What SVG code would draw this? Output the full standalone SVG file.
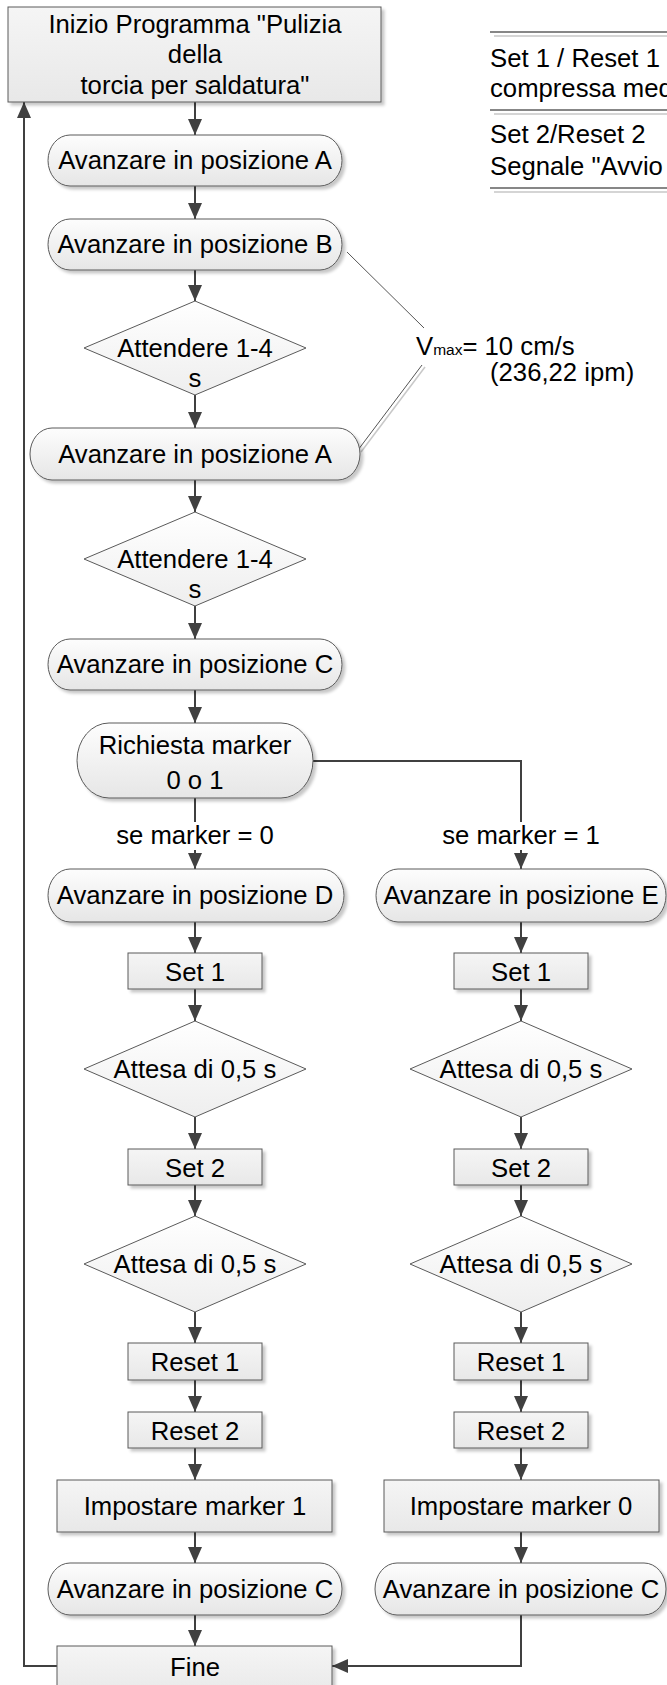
<svg xmlns="http://www.w3.org/2000/svg" width="667" height="1685" viewBox="0 0 667 1685">
<defs>
<linearGradient id="gp" x1="0" y1="0" x2="0" y2="1"><stop offset="0" stop-color="#fdfdfd"/><stop offset="1" stop-color="#e6e6e6"/></linearGradient>
<linearGradient id="gb" x1="0" y1="0" x2="0" y2="1"><stop offset="0" stop-color="#f5f5f5"/><stop offset="1" stop-color="#e8e8e8"/></linearGradient>
<linearGradient id="gd" x1="0" y1="0" x2="0" y2="1"><stop offset="0" stop-color="#ffffff"/><stop offset="1" stop-color="#eeeeee"/></linearGradient>
<filter id="sh" x="-10%" y="-10%" width="130%" height="140%"><feDropShadow dx="3" dy="3" stdDeviation="1.5" flood-color="#000" flood-opacity="0.22"/></filter>
<marker id="ah" viewBox="0 0 16 14" refX="16" refY="7" markerWidth="16" markerHeight="14" markerUnits="userSpaceOnUse" orient="auto"><path d="M0,0 L16,7 L0,14 z" fill="#404040"/></marker>
</defs>
<style>
.box{fill:url(#gb);stroke:#5a5a5a;stroke-width:1;filter:url(#sh)}
.pill{fill:url(#gp);stroke:#5a5a5a;stroke-width:1;filter:url(#sh)}
.dia{fill:url(#gd);stroke:#5a5a5a;stroke-width:1}
.t{font-family:"Liberation Sans",Arial,sans-serif;font-size:25.7px;fill:#000;text-anchor:middle}
.tl{font-family:"Liberation Sans",Arial,sans-serif;font-size:25.7px;fill:#000}
.c{fill:none;stroke:#404040;stroke-width:2}
.ca{fill:none;stroke:#404040;stroke-width:2;marker-end:url(#ah)}
.thin{fill:none;stroke:#555;stroke-width:1}
.shl{fill:none;stroke:#c8c8c8;stroke-width:1.5}
.dl{fill:none;stroke:#606060;stroke-width:1.5}
</style>

<g id="connectors">
<path class="ca" d="M195,102 V135"/>
<path class="ca" d="M195,186 V219"/>
<path class="ca" d="M195,270 V301"/>
<path class="ca" d="M195,395 V428"/>
<path class="ca" d="M195,480 V512"/>
<path class="ca" d="M195,606 V639"/>
<path class="ca" d="M195,690 V723"/>
<path class="ca" d="M195,798 V822 M195,850 V869"/>
<path class="ca" d="M313,761 H521 V822 M521,850 V869"/>
<path class="ca" d="M195,922 V953"/>
<path class="ca" d="M521,922 V953"/>
<path class="ca" d="M195,989 V1021"/>
<path class="ca" d="M521,989 V1021"/>
<path class="ca" d="M195,1117 V1149"/>
<path class="ca" d="M521,1117 V1149"/>
<path class="ca" d="M195,1185 V1216"/>
<path class="ca" d="M521,1185 V1216"/>
<path class="ca" d="M195,1312 V1343"/>
<path class="ca" d="M521,1312 V1343"/>
<path class="ca" d="M195,1380 V1412"/>
<path class="ca" d="M521,1380 V1412"/>
<path class="ca" d="M195,1448 V1480"/>
<path class="ca" d="M521,1448 V1480"/>
<path class="ca" d="M195,1532 V1563"/>
<path class="ca" d="M521,1532 V1563"/>
<path class="ca" d="M195,1615 V1646"/>
<path class="ca" d="M521,1615 V1666 H332"/>
<path class="ca" d="M57,1666 H24 V102"/>
<path class="thin" d="M347,252 L424,328"/>
<path class="shl" d="M425,367 L361,452"/>
<path class="thin" d="M422,365 L358,450"/>
</g>

<g id="start"><rect class="box" x="8" y="7" width="373" height="95"/>
<text class="t" x="195" y="33">Inizio Programma "Pulizia</text>
<text class="t" x="195" y="63">della</text>
<text class="t" x="195" y="94">torcia per saldatura"</text></g>

<g id="legend">
<path class="dl" d="M490,32 H667 M490,110 H667 M490,188 H667"/>
<path class="shl" d="M494,36 H667 M494,114 H667 M494,192 H667"/>
<text class="tl" x="490" y="67">Set 1 / Reset 1</text>
<text class="tl" x="490" y="97">compressa med</text>
<text class="tl" x="490" y="143">Set 2/Reset 2</text>
<text class="tl" x="490" y="175">Segnale "Avvio</text>
</g>

<g id="vmax"><text class="tl" x="416" y="355">V<tspan font-size="15.5">max</tspan>= 10 cm/s</text>
<text class="tl" x="490" y="381">(236,22 ipm)</text></g>

<g id="posA1"><rect class="pill" x="48" y="135" width="294" height="51" rx="22" ry="25.5"/><text class="t" x="195" y="169">Avanzare in posizione A</text></g>
<g id="posB"><rect class="pill" x="48" y="219" width="294" height="51" rx="22" ry="25.5"/><text class="t" x="195" y="253">Avanzare in posizione B</text></g>
<g id="wait1"><polygon class="dia" points="195,301 306,348 195,395 84,348"/><text class="t" x="195" y="357">Attendere 1-4</text><text class="t" x="195" y="387">s</text></g>
<g id="posA2"><rect class="pill" x="30" y="428" width="330" height="52" rx="22" ry="26"/><text class="t" x="195" y="463">Avanzare in posizione A</text></g>
<g id="wait2"><polygon class="dia" points="195,512 306,559 195,606 84,559"/><text class="t" x="195" y="568">Attendere 1-4</text><text class="t" x="195" y="598">s</text></g>
<g id="posC1"><rect class="pill" x="48" y="639" width="294" height="51" rx="22" ry="25.5"/><text class="t" x="195" y="673">Avanzare in posizione C</text></g>
<g id="query"><rect class="pill" x="77" y="723" width="236" height="75" rx="32" ry="37.5"/><text class="t" x="195" y="754">Richiesta marker</text><text class="t" x="195" y="789">0 o 1</text></g>

<g id="lbl0"><text class="t" x="195" y="844">se marker = 0</text></g>
<g id="lbl1"><text class="t" x="521" y="844">se marker = 1</text></g>

<g id="posD"><rect class="pill" x="48" y="869" width="296" height="53" rx="22" ry="26.5"/><text class="t" x="195" y="904">Avanzare in posizione D</text></g>
<g id="posE"><rect class="pill" x="376" y="869" width="290" height="53" rx="22" ry="26.5"/><text class="t" x="521" y="904">Avanzare in posizione E</text></g>

<g id="set1L"><rect class="box" x="128" y="953" width="134" height="36"/><text class="t" x="195" y="981">Set 1</text></g>
<g id="set1R"><rect class="box" x="454" y="953" width="134" height="36"/><text class="t" x="521" y="981">Set 1</text></g>
<g id="waitAL"><polygon class="dia" points="195,1021 306,1069 195,1117 84,1069"/><text class="t" x="195" y="1078">Attesa di 0,5 s</text></g>
<g id="waitAR"><polygon class="dia" points="521,1021 632,1069 521,1117 410,1069"/><text class="t" x="521" y="1078">Attesa di 0,5 s</text></g>
<g id="set2L"><rect class="box" x="128" y="1149" width="134" height="36"/><text class="t" x="195" y="1177">Set 2</text></g>
<g id="set2R"><rect class="box" x="454" y="1149" width="134" height="36"/><text class="t" x="521" y="1177">Set 2</text></g>
<g id="waitBL"><polygon class="dia" points="195,1216 306,1264 195,1312 84,1264"/><text class="t" x="195" y="1273">Attesa di 0,5 s</text></g>
<g id="waitBR"><polygon class="dia" points="521,1216 632,1264 521,1312 410,1264"/><text class="t" x="521" y="1273">Attesa di 0,5 s</text></g>
<g id="reset1L"><rect class="box" x="128" y="1343" width="134" height="37"/><text class="t" x="195" y="1371">Reset 1</text></g>
<g id="reset1R"><rect class="box" x="454" y="1343" width="134" height="37"/><text class="t" x="521" y="1371">Reset 1</text></g>
<g id="reset2L"><rect class="box" x="128" y="1412" width="134" height="36"/><text class="t" x="195" y="1440">Reset 2</text></g>
<g id="reset2R"><rect class="box" x="454" y="1412" width="134" height="36"/><text class="t" x="521" y="1440">Reset 2</text></g>
<g id="mark1"><rect class="box" x="57" y="1480" width="275" height="52"/><text class="t" x="195" y="1515">Impostare marker 1</text></g>
<g id="mark0"><rect class="box" x="384" y="1480" width="275" height="52"/><text class="t" x="521" y="1515">Impostare marker 0</text></g>
<g id="posC2L"><rect class="pill" x="48" y="1563" width="294" height="52" rx="22" ry="26"/><text class="t" x="195" y="1598">Avanzare in posizione C</text></g>
<g id="posC2R"><rect class="pill" x="375" y="1563" width="291" height="52" rx="22" ry="26"/><text class="t" x="521" y="1598">Avanzare in posizione C</text></g>
<g id="fine"><rect class="box" x="57" y="1646" width="275" height="52"/><text class="t" x="195" y="1676">Fine</text></g>
</svg>
